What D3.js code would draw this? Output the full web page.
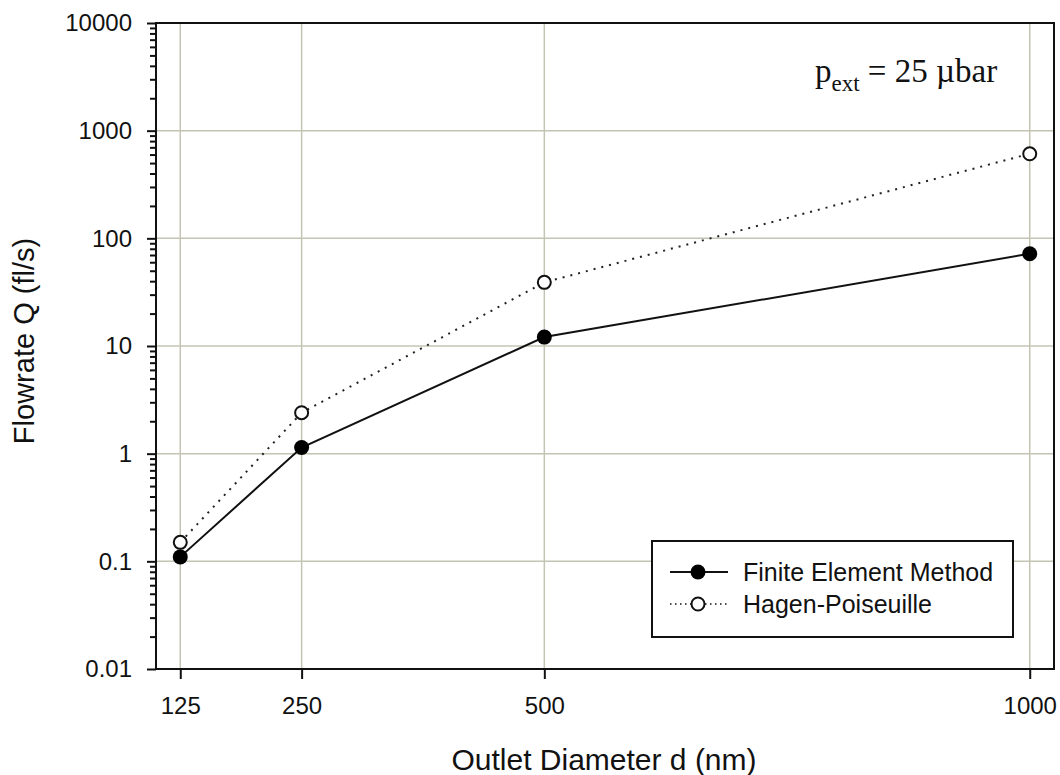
<!DOCTYPE html>
<html>
<head>
<meta charset="utf-8">
<script src="https://cdn.jsdelivr.net/npm/d3@7"></script>
<style>
  body { margin: 0; background: #fff; }
  text { font-family: Arial, "Liberation Sans", sans-serif; }
</style>
</head>
<body>
<div id="chart"></div>
<script>
// data
var diameters = [125, 250, 500, 1000];
var femFlow = [0.11, 1.14, 12.1, 72];
var hpFlow = [0.15, 2.4, 39, 610];
var xTickValues = [125, 250, 500, 1000];
var yTickValues = [0.01, 0.1, 1, 10, 100, 1000, 10000];
var seriesNames = ["Finite Element Method", "Hagen-Poiseuille"];

// set the dimensions and margins of the graph
var margin = {top: 23, right: 6, bottom: 106, left: 156},
    width = 1060 - margin.left - margin.right,
    height = 775 - margin.top - margin.bottom;

var gridColor = "#c4c4b4";

var svg = d3.select("#chart")
  .append("svg")
    .attr("width", 1060)
    .attr("height", 775)
  .append("g")
    .attr("transform", "translate(" + margin.left + "," + margin.top + ")");

// scales
var x = d3.scaleLinear()
  .domain([100, 1025])
  .range([0, width]);

var y = d3.scaleLog()
  .domain([0.01, 10000])
  .range([height, 0]);

// minor ticks 2..9 in every decade
var minorTicks = [];
yTickValues.slice(0, -1).forEach(function(d) {
  for (var k = 2; k <= 9; k++) minorTicks.push(d * k);
});

// grid lines
svg.append("g")
  .selectAll("line.hgrid")
  .data(yTickValues)
  .enter()
  .append("line")
    .attr("x1", 0)
    .attr("x2", width)
    .attr("y1", function(d) { return y(d); })
    .attr("y2", function(d) { return y(d); })
    .attr("stroke", gridColor)
    .attr("stroke-width", 1.5);

svg.append("g")
  .selectAll("line.vgrid")
  .data(xTickValues)
  .enter()
  .append("line")
    .attr("x1", function(d) { return x(d); })
    .attr("x2", function(d) { return x(d); })
    .attr("y1", 0)
    .attr("y2", height)
    .attr("stroke", gridColor)
    .attr("stroke-width", 1.5);

// Y axis (major + minor)
svg.append("g")
  .call(d3.axisLeft(y)
    .tickValues(yTickValues)
    .tickSize(9)
    .tickPadding(15)
    .tickFormat(function(d) { return d >= 1 ? d3.format("d")(d) : String(d); }));

svg.append("g")
  .call(d3.axisLeft(y)
    .tickValues(minorTicks)
    .tickSize(6)
    .tickFormat(""));

// X axis
svg.append("g")
  .attr("transform", "translate(0," + height + ")")
  .call(d3.axisBottom(x)
    .tickValues(xTickValues)
    .tickSize(10)
    .tickPadding(18)
    .tickFormat(d3.format("d")));

svg.selectAll(".domain").remove();
svg.selectAll(".tick line").attr("stroke", "#111").attr("stroke-width", 2);
svg.selectAll(".tick text")
  .attr("fill", "#111")
  .style("font-size", "24px")
  .style("font-family", "Arial, 'Liberation Sans', sans-serif");

// frame
svg.append("rect")
  .attr("x", 0)
  .attr("y", 0)
  .attr("width", width)
  .attr("height", height)
  .attr("fill", "none")
  .attr("stroke", "#111")
  .attr("stroke-width", 2);

// lines
var line = d3.line()
  .x(function(d) { return x(d[0]); })
  .y(function(d) { return y(d[1]); });

var hpData = d3.zip(diameters, hpFlow);
var femData = d3.zip(diameters, femFlow);

svg.append("path")
  .datum(hpData)
  .attr("d", line)
  .attr("fill", "none")
  .attr("stroke", "#222")
  .attr("stroke-width", 2)
  .attr("stroke-dasharray", "2,6");

svg.append("path")
  .datum(femData)
  .attr("d", line)
  .attr("fill", "none")
  .attr("stroke", "#111")
  .attr("stroke-width", 2);

// markers
svg.selectAll("circle.hp")
  .data(hpData)
  .enter()
  .append("circle")
    .attr("cx", function(d) { return x(d[0]); })
    .attr("cy", function(d) { return y(d[1]); })
    .attr("r", 6.5)
    .attr("fill", "#fff")
    .attr("stroke", "#111")
    .attr("stroke-width", 2);

svg.selectAll("circle.fem")
  .data(femData)
  .enter()
  .append("circle")
    .attr("cx", function(d) { return x(d[0]); })
    .attr("cy", function(d) { return y(d[1]); })
    .attr("r", 7.5)
    .attr("fill", "#000");

// annotation p_ext = 25 µbar
var ann = svg.append("text")
  .attr("x", 815 - margin.left)
  .attr("y", 82 - margin.top)
  .style("font-family", "'Liberation Serif', 'Times New Roman', serif")
  .style("font-size", "33px")
  .attr("fill", "#111");
ann.append("tspan").text("p");
ann.append("tspan").attr("dy", 9).style("font-size", "23px").text("ext");
ann.append("tspan").attr("dy", -9).text(" = 25 \u00b5bar");

// legend
var legend = svg.append("g")
  .attr("transform", "translate(" + (652 - margin.left) + "," + (541 - margin.top) + ")");

legend.append("rect")
  .attr("width", 361)
  .attr("height", 96)
  .attr("fill", "#fff")
  .attr("stroke", "#111")
  .attr("stroke-width", 2);

var legendRows = legend.selectAll("g.row")
  .data(seriesNames)
  .enter()
  .append("g")
    .attr("transform", function(d, i) { return "translate(0," + (31 + i * 32) + ")"; });

legendRows.append("line")
  .attr("x1", 18)
  .attr("x2", 76)
  .attr("stroke", "#111")
  .attr("stroke-width", function(d, i) { return i == 0 ? 2 : 1.5; })
  .attr("stroke-dasharray", function(d, i) { return i == 0 ? null : "1.5,3.5"; });

legendRows.append("circle")
  .attr("cx", 46)
  .attr("r", function(d, i) { return i == 0 ? 7.5 : 6.5; })
  .attr("fill", function(d, i) { return i == 0 ? "#000" : "#fff"; })
  .attr("stroke", "#111")
  .attr("stroke-width", function(d, i) { return i == 0 ? 0 : 2; });

legendRows.append("text")
  .attr("x", 91)
  .attr("dy", "0.35em")
  .style("font-size", "25px")
  .attr("fill", "#111")
  .text(function(d) { return d; });

// axis titles
svg.append("text")
  .attr("x", 604 - margin.left)
  .attr("y", 770 - margin.top)
  .attr("text-anchor", "middle")
  .style("font-size", "30px")
  .attr("fill", "#111")
  .text("Outlet Diameter d (nm)");

svg.append("text")
  .attr("transform", "translate(" + (34 - margin.left) + "," + (341 - margin.top) + ") rotate(-90)")
  .attr("text-anchor", "middle")
  .style("font-size", "29px")
  .attr("fill", "#111")
  .text("Flowrate Q (fl/s)");
</script>
</body>
</html>
